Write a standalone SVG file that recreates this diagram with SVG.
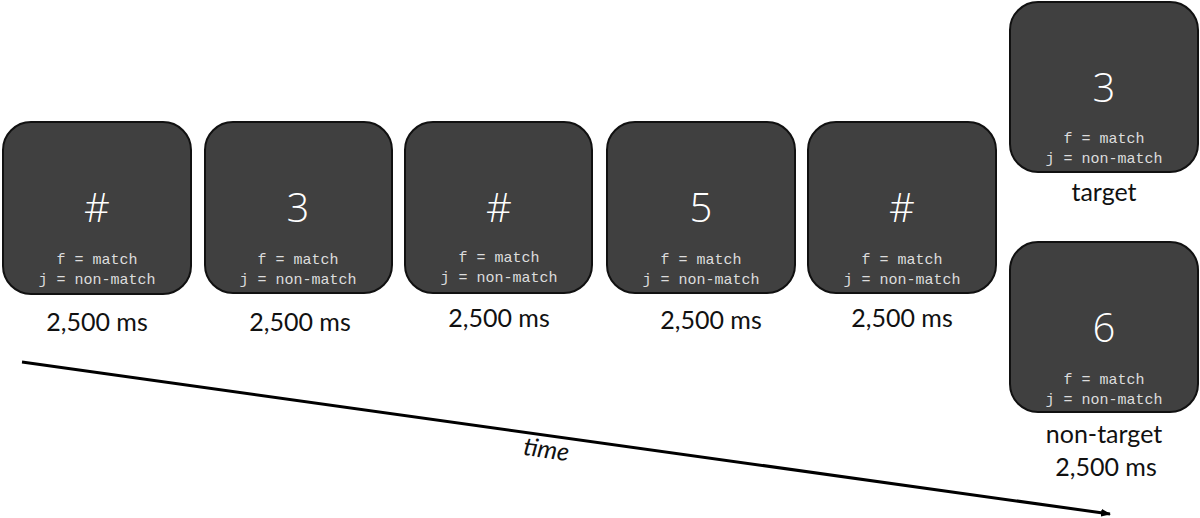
<svg xmlns="http://www.w3.org/2000/svg" width="1200" height="518" viewBox="0 0 1200 518">
<style>
.box{fill:#404040;stroke:#111;stroke-width:2}
.big{font-family:"Open Sans",sans-serif;font-weight:300;font-size:40px;fill:#fff;text-anchor:middle}
.key{font-family:"Liberation Mono",monospace;font-size:15px;fill:#ddd;text-anchor:middle}
.lbl{font-family:"Lato","Liberation Sans",sans-serif;font-size:25px;fill:#111;text-anchor:middle}
</style>
<defs><marker id="ah" markerWidth="10" markerHeight="8" refX="9" refY="4" orient="auto" markerUnits="userSpaceOnUse"><path d="M0,0 L10,4 L0,8 z" fill="#000"/></marker></defs>
<g id="n1"><rect class="box" x="3" y="122" width="188" height="172" rx="28"/><text class="big" x="97" y="222">#</text><text class="key" x="97" y="264">f = match</text><text class="key" x="97" y="284">j = non-match</text><text class="lbl" x="97" y="331">2,500 ms</text></g>
<g id="n2"><rect class="box" x="205" y="122" width="187" height="171" rx="28"/><text class="big" x="298" y="222">3</text><text class="key" x="298" y="264">f = match</text><text class="key" x="298" y="284">j = non-match</text><text class="lbl" x="300" y="331">2,500 ms</text></g>
<g id="n3"><rect class="box" x="405" y="122" width="187" height="171" rx="28"/><text class="big" x="499" y="222">#</text><text class="key" x="499" y="262">f = match</text><text class="key" x="499" y="282">j = non-match</text><text class="lbl" x="499" y="327">2,500 ms</text></g>
<g id="n4"><rect class="box" x="607" y="122" width="188" height="171" rx="28"/><text class="big" x="701" y="222">5</text><text class="key" x="701" y="264">f = match</text><text class="key" x="701" y="284">j = non-match</text><text class="lbl" x="711" y="329">2,500 ms</text></g>
<g id="n5"><rect class="box" x="808" y="122" width="188" height="171" rx="28"/><text class="big" x="902" y="222">#</text><text class="key" x="902" y="264">f = match</text><text class="key" x="902" y="284">j = non-match</text><text class="lbl" x="902" y="327">2,500 ms</text></g>
<g id="n6"><rect class="box" x="1010" y="2" width="188" height="170" rx="28"/><text class="big" x="1104" y="102">3</text><text class="key" x="1104" y="143">f = match</text><text class="key" x="1104" y="163">j = non-match</text><text class="lbl" x="1104" y="201">target</text></g>
<g id="n7"><rect class="box" x="1010" y="242" width="188" height="170" rx="28"/><text class="big" x="1104" y="342">6</text><text class="key" x="1104" y="384">f = match</text><text class="key" x="1104" y="404">j = non-match</text><text class="lbl" x="1104" y="443">non-target</text><text class="lbl" x="1106" y="476">2,500 ms</text></g>
<g id="connectors"><line x1="22" y1="362" x2="1110" y2="514" stroke="#000" stroke-width="3" marker-end="url(#ah)"/><text class="lbl" x="546" y="458" font-style="italic" transform="rotate(8 546 452)">time</text></g>
</svg>
